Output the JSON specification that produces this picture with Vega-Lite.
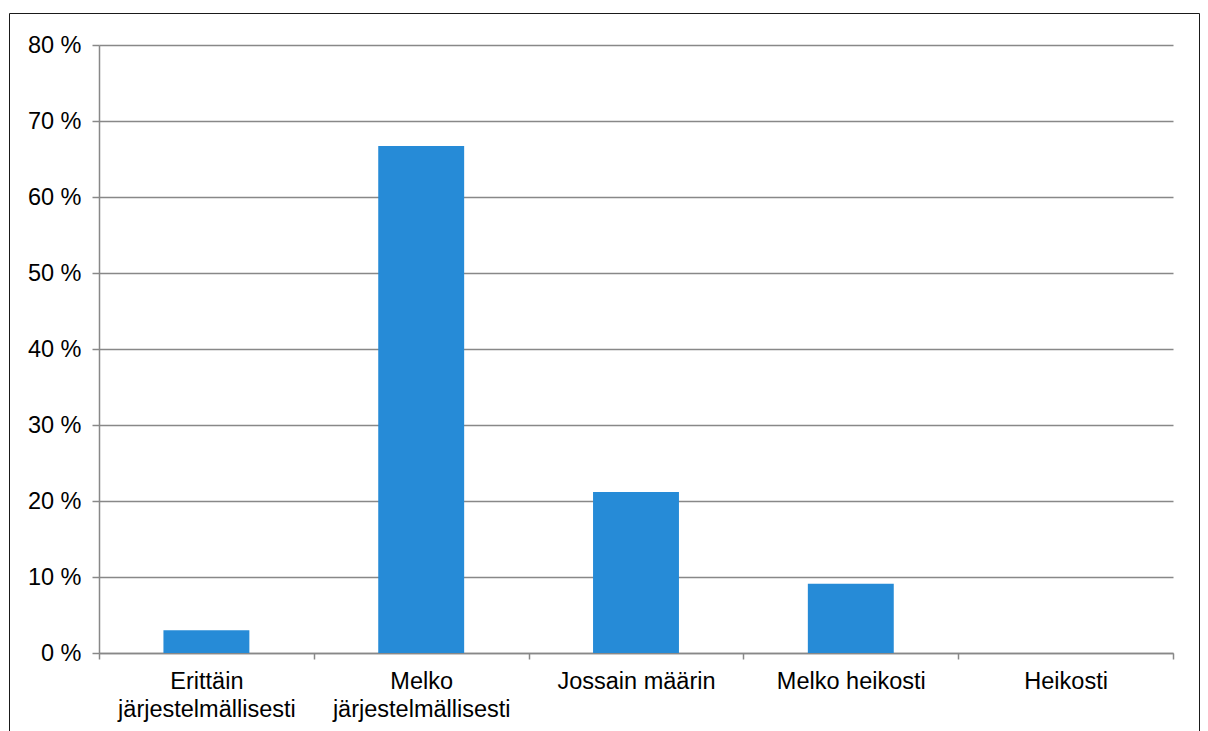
{
  "$schema": "https://vega.github.io/schema/vega-lite/v6.json",
  "autosize": "none",
  "width": 1190,
  "height": 720,
  "padding": {"left": 9, "top": 13, "right": 9, "bottom": 0},
  "background": "white",
  "config": {
    "view": {"stroke": "#1a1a1a", "strokeWidth": 1},
    "font": "Liberation Sans"
  },
  "data": {
    "values": [
      {"category": "Erittäin järjestelmällisesti", "percent": 3.0},
      {"category": "Melko järjestelmällisesti", "percent": 66.7},
      {"category": "Jossain määrin", "percent": 21.2},
      {"category": "Melko heikosti", "percent": 9.1},
      {"category": "Heikosti", "percent": 0}
    ]
  },
  "mark": {"type": "bar", "color": "#268BD7", "width": {"band": 0.4}},
  "encoding": {
    "x": {
      "field": "category",
      "type": "nominal",
      "sort": null,
      "scale": {"range": [90, 1164], "paddingInner": 0, "paddingOuter": 0},
      "axis": {
        "orient": "bottom",
        "offset": -80,
        "title": null,
        "tickBand": "extent",
        "labelAngle": 0,
        "labelExpr": "indexof(datum.label, 'järjestelmällisesti') > 0 ? split(datum.label, ' ') : datum.label",
        "labelFont": "Liberation Sans",
        "labelFontSize": 23.5,
        "labelLineHeight": 28,
        "labelColor": "#000000",
        "labelPadding": 10,
        "labelLimit": 0,
        "labelOverlap": false,
        "domainColor": "#888888",
        "domainWidth": 1.5,
        "tickColor": "#888888",
        "tickWidth": 1.5,
        "tickSize": 6,
        "grid": false
      }
    },
    "y": {
      "field": "percent",
      "type": "quantitative",
      "scale": {"domain": [0, 80], "range": [640, 32], "nice": false, "zero": true},
      "axis": {
        "orient": "left",
        "offset": -90,
        "title": null,
        "values": [0, 10, 20, 30, 40, 50, 60, 70, 80],
        "labelExpr": "datum.value + ' %'",
        "labelFont": "Liberation Sans",
        "labelFontSize": 23.5,
        "labelColor": "#000000",
        "labelPadding": 11,
        "domainColor": "#888888",
        "domainWidth": 1.5,
        "tickColor": "#888888",
        "tickWidth": 1.5,
        "tickSize": 7,
        "grid": true,
        "gridColor": "#888888",
        "gridWidth": 1.5,
        "gridOpacity": 1
      }
    }
  }
}
